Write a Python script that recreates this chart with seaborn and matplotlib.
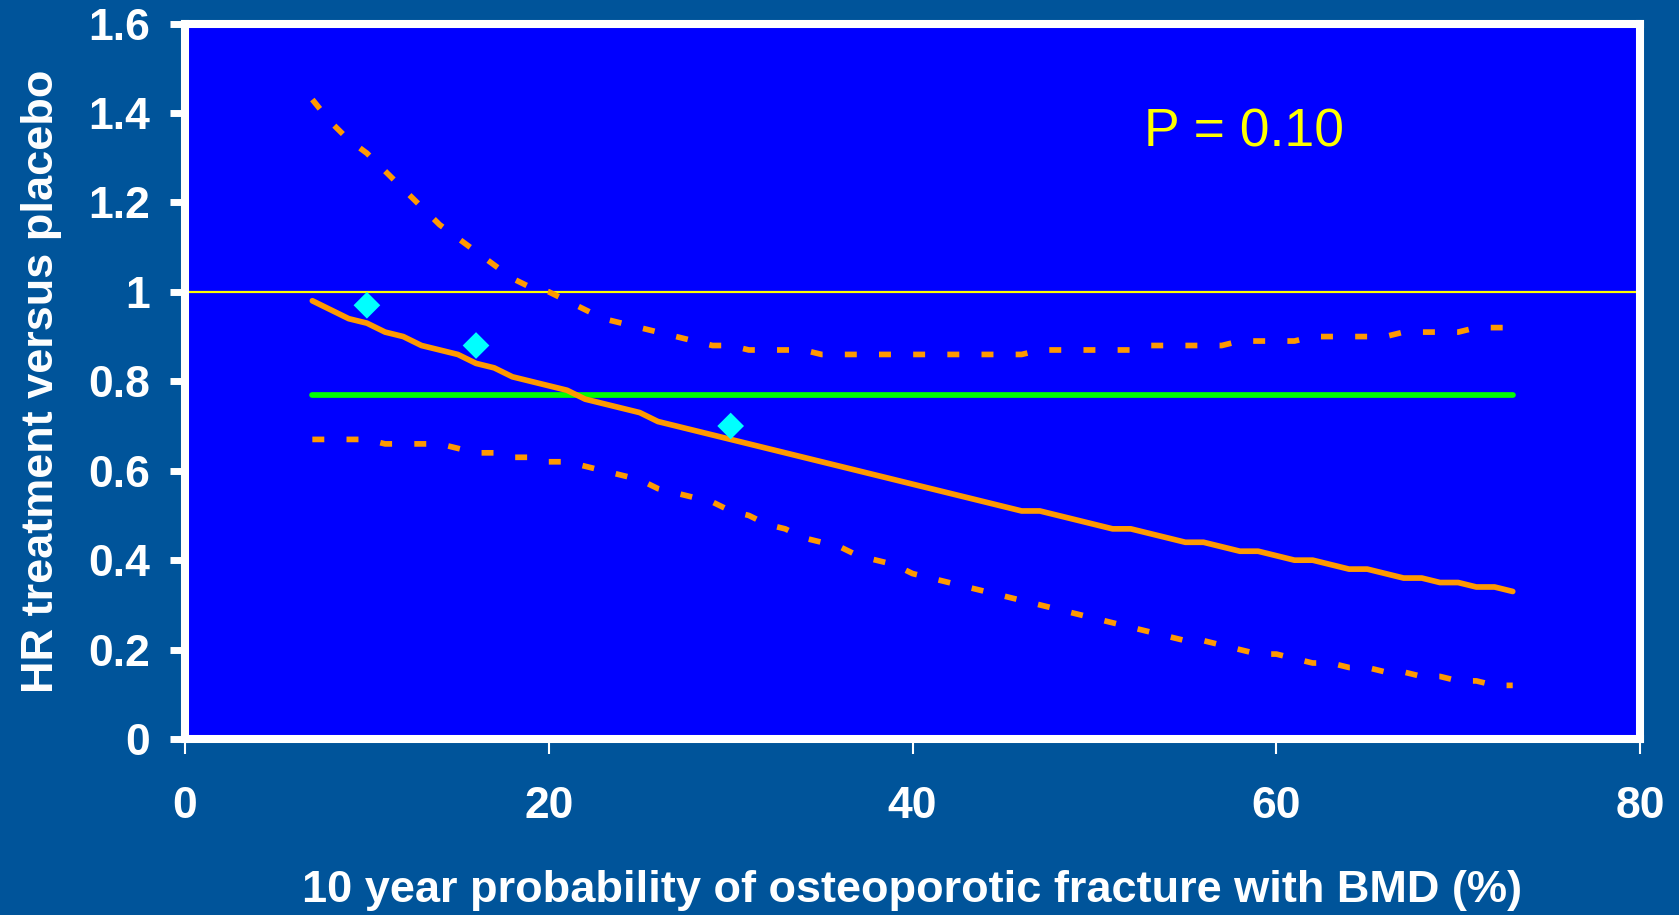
import matplotlib
matplotlib.use("Agg")
import matplotlib.pyplot as plt
import seaborn as sns
import numpy as np

# ---------------- data ----------------
prob = list(range(7, 74))  # 10 year probability (%)

hr_estimate = [0.98, 0.96, 0.94, 0.93, 0.91, 0.90, 0.88, 0.87, 0.86, 0.84,
               0.83, 0.81, 0.80, 0.79, 0.78, 0.76, 0.75, 0.74, 0.73, 0.71,
               0.70, 0.69, 0.68, 0.67, 0.66, 0.65, 0.64, 0.63, 0.62, 0.61,
               0.60, 0.59, 0.58, 0.57, 0.56, 0.55, 0.54, 0.53, 0.52, 0.51,
               0.51, 0.50, 0.49, 0.48, 0.47, 0.47, 0.46, 0.45, 0.44, 0.44,
               0.43, 0.42, 0.42, 0.41, 0.40, 0.40, 0.39, 0.38, 0.38, 0.37,
               0.36, 0.36, 0.35, 0.35, 0.34, 0.34, 0.33]

hr_upper = [1.43, 1.38, 1.34, 1.31, 1.27, 1.23, 1.19, 1.15, 1.12, 1.09,
            1.06, 1.03, 1.01, 1.00, 0.98, 0.96, 0.94, 0.93, 0.92, 0.91,
            0.90, 0.89, 0.88, 0.88, 0.87, 0.87, 0.87, 0.87, 0.86, 0.86,
            0.86, 0.86, 0.86, 0.86, 0.86, 0.86, 0.86, 0.86, 0.86, 0.86,
            0.87, 0.87, 0.87, 0.87, 0.87, 0.87, 0.88, 0.88, 0.88, 0.88,
            0.88, 0.89, 0.89, 0.89, 0.89, 0.90, 0.90, 0.90, 0.90, 0.90,
            0.91, 0.91, 0.91, 0.91, 0.92, 0.92, 0.92]

hr_lower = [0.67, 0.67, 0.67, 0.67, 0.66, 0.66, 0.66, 0.66, 0.65, 0.64,
            0.64, 0.63, 0.63, 0.62, 0.62, 0.61, 0.60, 0.59, 0.58, 0.56,
            0.55, 0.54, 0.53, 0.51, 0.50, 0.48, 0.47, 0.45, 0.44, 0.43,
            0.41, 0.40, 0.39, 0.37, 0.36, 0.35, 0.34, 0.33, 0.32, 0.31,
            0.30, 0.29, 0.28, 0.27, 0.26, 0.25, 0.24, 0.23, 0.22, 0.22,
            0.21, 0.20, 0.19, 0.19, 0.18, 0.17, 0.17, 0.16, 0.16, 0.15,
            0.15, 0.14, 0.14, 0.13, 0.13, 0.12, 0.12]

overall_x = [7, 73]
overall_hr = [0.77, 0.77]

point_x = [10, 16, 30]
point_hr = [0.97, 0.88, 0.70]

reference_hr = 1.0
p_text = "P = 0.10"

xticks = [0, 20, 40, 60, 80]
yticks = [0, 0.2, 0.4, 0.6, 0.8, 1.0, 1.2, 1.4, 1.6]
ytick_labels = ["0", "0.2", "0.4", "0.6", "0.8", "1", "1.2", "1.4", "1.6"]

xlabel = "10 year probability of osteoporotic fracture with BMD (%)"
ylabel = "HR treatment versus placebo"

# ---------------- style ----------------
FIG_BG = "#00549A"
AX_BG = "#0000FF"
ORANGE = "#FF9900"

sns.set_style("white")
plt.rcParams["font.family"] = ["Liberation Sans", "DejaVu Sans"]

fig = plt.figure(figsize=(16.79, 9.15), dpi=100, facecolor=FIG_BG)
ax = fig.add_axes([0.1102, 0.1923, 0.8666, 0.782])
ax.set_facecolor(AX_BG)

ax.axhline(reference_hr, color="#FFFF00", lw=1.6, zorder=2)

dash = (0, (2.1, 3.9))
sns.lineplot(x=prob, y=hr_upper, ax=ax, color=ORANGE, lw=4.1,
             linestyle=dash, dash_capstyle="butt", zorder=3)
sns.lineplot(x=prob, y=hr_lower, ax=ax, color=ORANGE, lw=4.1,
             linestyle=dash, dash_capstyle="butt", zorder=3)
sns.lineplot(x=overall_x, y=overall_hr, ax=ax, color="#00FF00", lw=4.1,
             solid_capstyle="round", zorder=3)
sns.lineplot(x=prob, y=hr_estimate, ax=ax, color=ORANGE, lw=4.1,
             solid_capstyle="round", solid_joinstyle="round", zorder=4)
sns.scatterplot(x=point_x, y=point_hr, ax=ax, marker="D", s=185,
                color="#00FFFF", edgecolor="none", linewidth=0, zorder=5)

ax.text(52.7, 1.325, p_text, color="#FFFF00", fontsize=38.5,
        ha="left", va="baseline")

ax.set_xlim(0, 80)
ax.set_ylim(0, 1.6)
ax.set_xticks(xticks)
ax.set_yticks(yticks)
ax.set_yticklabels(ytick_labels)

for s in ax.spines.values():
    s.set_color("white")
    s.set_linewidth(5.8)
    s.set_visible(True)

ax.tick_params(axis="y", which="major", left=True, length=11, width=5,
               color="white", labelcolor="white", labelsize=32, pad=14)
ax.tick_params(axis="x", which="major", bottom=True, length=11, width=1.5,
               color="white", labelcolor="white", labelsize=32, pad=23)
for lab in ax.get_xticklabels() + ax.get_yticklabels():
    lab.set_fontweight("bold")

ax.set_xlabel(xlabel, color="white", fontsize=32.5, fontweight="bold", labelpad=31)
ax.set_ylabel(ylabel, color="white", fontsize=32.5, fontweight="bold", labelpad=19)

fig.savefig("out.png", dpi=100, facecolor=FIG_BG)
